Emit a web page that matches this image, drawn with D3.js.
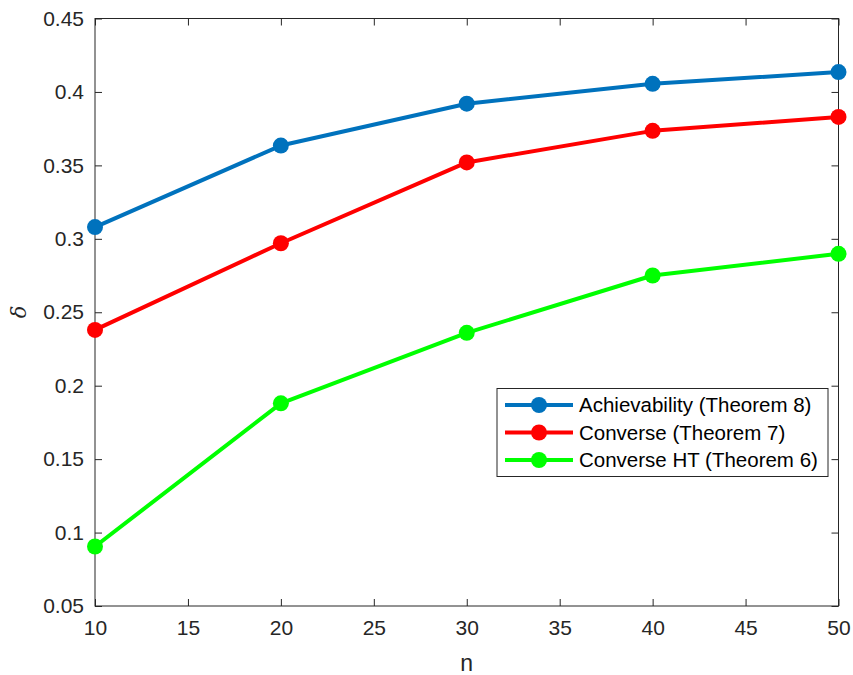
<!DOCTYPE html>
<html>
<head>
<meta charset="utf-8">
<script src="https://cdn.jsdelivr.net/npm/d3@7"></script>
<style>
  body { margin: 0; background: #fff; }
  text { font-family: "Liberation Sans", Arial, Helvetica, sans-serif; }
</style>
</head>
<body>
<div id="chart"></div>
<script>
// data
var nValues = [10, 20, 30, 40, 50];
var achievability = [0.308, 0.3635, 0.392, 0.4055, 0.4135];
var converse = [0.238, 0.297, 0.352, 0.3735, 0.383];
var converseHT = [0.0905, 0.188, 0.236, 0.275, 0.2898];
var xTicks = [10, 15, 20, 25, 30, 35, 40, 45, 50];
var yTicks = [0.05, 0.1, 0.15, 0.2, 0.25, 0.3, 0.35, 0.4, 0.45];
var seriesNames = ['Achievability (Theorem 8)', 'Converse (Theorem 7)', 'Converse HT (Theorem 6)'];
var seriesColors = ['#0072BD', '#FF0000', '#00FF00'];

var width = 853, height = 675;
// plot box (note: "top" is taken by window.top, so use plotX names)
var plotLeft = 95, plotRight = 838.5, plotTop = 18.5, plotBottom = 606;
var tickLen = 7;
var axisColor = '#262626';

var svg = d3.select('#chart').append('svg')
    .attr('width', width)
    .attr('height', height);

var x = d3.scaleLinear().domain([10, 50]).range([plotLeft, plotRight]);
var y = d3.scaleLinear().domain([0.05, 0.45]).range([plotBottom, plotTop]);

// axes (ticks inward, like matlab)
var xAxis = d3.axisBottom(x).tickValues(xTicks).tickSize(-tickLen).tickPadding(14).tickFormat(d3.format('d'));
var yAxis = d3.axisLeft(y).tickValues(yTicks).tickSize(-tickLen).tickPadding(11).tickFormat(function(d){ return String(+d.toFixed(2)); });
var xTop = d3.axisTop(x).tickValues(xTicks).tickSize(-tickLen).tickFormat('');
var yRight = d3.axisRight(y).tickValues(yTicks).tickSize(-tickLen).tickFormat('');

function styleAxis(g) {
    g.select('.domain').remove();
    g.selectAll('line').attr('stroke', axisColor).attr('stroke-width', 1);
    g.selectAll('text').attr('fill', axisColor).style('font-size', '21px')
        .style('font-family', '"Liberation Sans", Arial, sans-serif');
}

svg.append('g').attr('transform', 'translate(0,' + plotBottom + ')').call(xAxis).call(styleAxis);
svg.append('g').attr('transform', 'translate(' + plotLeft + ',0)').call(yAxis).call(styleAxis);
svg.append('g').attr('transform', 'translate(0,' + plotTop + ')').call(xTop).call(styleAxis);
svg.append('g').attr('transform', 'translate(' + plotRight + ',0)').call(yRight).call(styleAxis);

// box
svg.append('rect')
    .attr('x', plotLeft).attr('y', plotTop)
    .attr('width', plotRight - plotLeft).attr('height', plotBottom - plotTop)
    .attr('fill', 'none').attr('stroke', axisColor).attr('stroke-width', 1);

// axis labels
svg.append('text')
    .attr('x', (plotLeft + plotRight) / 2).attr('y', 671)
    .attr('text-anchor', 'middle')
    .attr('fill', axisColor)
    .style('font-size', '23px')
    .text('n');

svg.append('text')
    .attr('transform', 'translate(26,312)rotate(-90)')
    .attr('text-anchor', 'middle')
    .attr('fill', axisColor)
    .style('font-size', '21px')
    .style('font-family', '"DejaVu Serif", "Liberation Serif", serif')
    .style('font-style', 'italic')
    .text('δ');

// lines + markers
var allSeries = [achievability, converse, converseHT];
var line = d3.line()
    .x(function(d, i){ return x(nValues[i]); })
    .y(function(d){ return y(d); });

allSeries.forEach(function(vals, s) {
    svg.append('path')
        .datum(vals)
        .attr('d', line)
        .attr('fill', 'none')
        .attr('stroke', seriesColors[s])
        .attr('stroke-width', 4)
        .attr('stroke-linejoin', 'round');
    svg.selectAll('circle.s' + s)
        .data(vals)
        .enter().append('circle')
        .attr('class', 's' + s)
        .attr('cx', function(d, i){ return x(nValues[i]); })
        .attr('cy', function(d){ return y(d); })
        .attr('r', 8)
        .attr('fill', seriesColors[s]);
});

// legend
var legend = svg.append('g').attr('transform', 'translate(497,388.5)');
legend.append('rect')
    .attr('width', 331).attr('height', 88)
    .attr('fill', '#fff')
    .attr('stroke', axisColor).attr('stroke-width', 1);

seriesNames.forEach(function(name, i) {
    var ly = 16.5 + i * 27.5;
    legend.append('line')
        .attr('x1', 8).attr('x2', 76)
        .attr('y1', ly).attr('y2', ly)
        .attr('stroke', seriesColors[i]).attr('stroke-width', 4);
    legend.append('circle')
        .attr('cx', 42).attr('cy', ly).attr('r', 8)
        .attr('fill', seriesColors[i]);
    legend.append('text')
        .attr('x', 82).attr('y', ly + 7)
        .attr('fill', '#000')
        .style('font-size', '20.5px')
        .text(name);
});
</script>
</body>
</html>
